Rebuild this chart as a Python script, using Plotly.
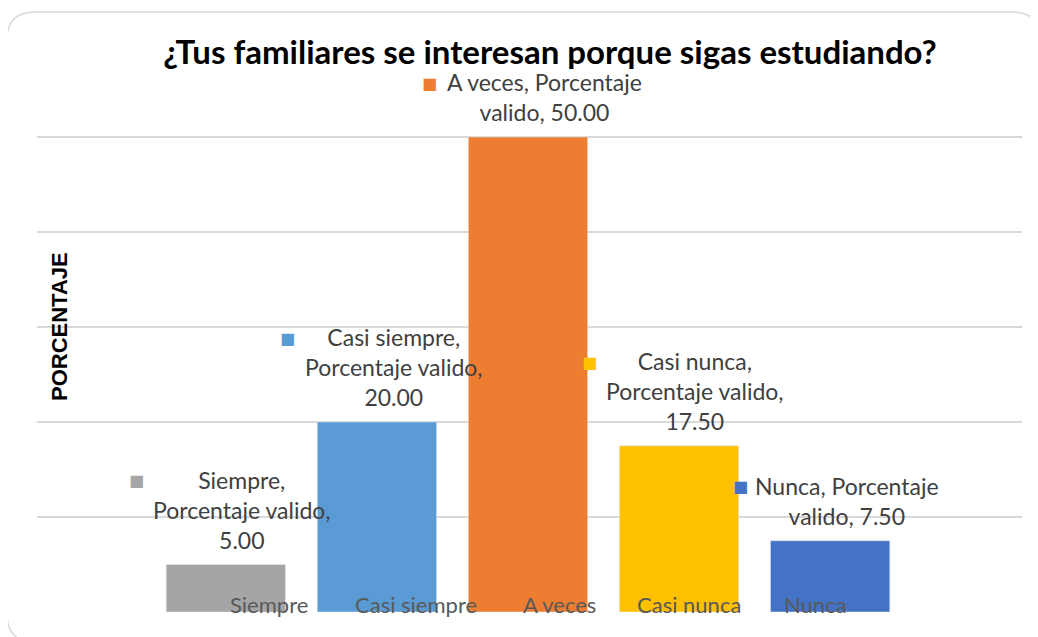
import plotly.graph_objects as go

categorias = ["Siempre", "Casi siempre", "A veces", "Casi nunca", "Nunca"]
porcentaje = [5.00, 20.00, 50.00, 17.50, 7.50]
colores = ["#A5A5A5", "#5B9BD5", "#ED7D31", "#FFC000", "#4472C4"]
etiquetas = [
    "Siempre,<br>Porcentaje valido,<br>5.00",
    "Casi siempre,<br>Porcentaje valido,<br>20.00",
    "A veces, Porcentaje<br>valido, 50.00",
    "Casi nunca,<br>Porcentaje valido,<br>17.50",
    "Nunca, Porcentaje<br>valido, 7.50",
]

# la pagina html deja 8px de margen en el body
OFF = 8
W, H = 1038 - OFF, 637 - OFF
L, R, T, B = 37 - OFF, 16, 42 - OFF, 25
pw, ph = W - L - R, H - T - B

# desplazamientos de etiquetas (imitan el grafico de Excel)
shift_lbl = [16, 17, 17, 16, 17]
shift_sq = [-89, -89, -98, -90, -90]
shift_cat = [43, 39, 32, 10, -15]
FS = 23
LH = FS * 1.3

fig = go.Figure()
fig.add_trace(go.Bar(x=categorias, y=porcentaje, marker_color=colores,
                     width=0.79, showlegend=False, hoverinfo="skip"))

ann = []
for i, c in enumerate(categorias):
    nlin = etiquetas[i].count("<br>") + 1
    ann.append(dict(x=c, y=porcentaje[i], text=etiquetas[i], showarrow=False,
                    xshift=shift_lbl[i], yshift=9, yanchor="bottom",
                    font=dict(family="Lato", size=FS, color="#404040")))
    ann.append(dict(x=c, y=porcentaje[i], text="■", showarrow=False,
                    xshift=shift_sq[i], yshift=9 + LH * nlin - LH / 2, yanchor="middle",
                    font=dict(family="DejaVu Sans", size=16, color=colores[i])))
    ann.append(dict(x=c, y=0, text=c, showarrow=False, xshift=shift_cat[i],
                    yanchor="middle", yshift=8,
                    font=dict(family="Lato", size=22, color="#595959")))

ann.append(dict(xref="paper", yref="paper", x=(59 - OFF - L) / pw,
                y=(H - B - (327 - OFF)) / ph, xanchor="center", yanchor="middle",
                text="<b>PORCENTAJE</b>", textangle=-90, showarrow=False,
                font=dict(family="Liberation Sans", size=22, color="#000000")))


def px2paper(x, y):
    return (x - OFF - L) / pw, (H - B - (y - OFF)) / ph


x0, y0, x1, y1, r = 7, 12, 1040, 642, 28
pts = [
    ("M", x0 + r, y0), ("L", x1 - r, y0), ("Q", x1, y0, x1, y0 + r),
    ("L", x1, y1 - r), ("Q", x1, y1, x1 - r, y1), ("L", x0 + r, y1),
    ("Q", x0, y1, x0, y1 - r), ("L", x0, y0 + r), ("Q", x0, y0, x0 + r, y0),
]
path = ""
for p in pts:
    coords = []
    for k in range(1, len(p), 2):
        a, b = px2paper(p[k], p[k + 1])
        coords.append("%.5f,%.5f" % (a, b))
    path += p[0] + " " + " ".join(coords) + " "
path += "Z"

fig.update_layout(
    width=W, height=H,
    margin=dict(l=L, r=R, t=T, b=B),
    paper_bgcolor="white", plot_bgcolor="white",
    title=dict(text="<b>¿Tus familiares se interesan porque sigas estudiando?</b>",
               x=(550 - OFF) / W, xanchor="center", y=1 - (52 - OFF) / H,
               yanchor="middle",
               font=dict(family="Lato", size=33, color="#000000")),
    xaxis=dict(range=[-1.25, 5.27], showticklabels=False, showgrid=False,
               zeroline=False, showline=False),
    yaxis=dict(range=[0, 60], dtick=10, showticklabels=False, showgrid=True,
               gridcolor="#D9D9D9", gridwidth=1.5, zeroline=False, showline=False),
    annotations=ann,
    shapes=[dict(type="path", xref="paper", yref="paper", path=path,
                 line=dict(color="#D9D9D9", width=1.5), layer="below")],
)

fig.write_html("out.html")
